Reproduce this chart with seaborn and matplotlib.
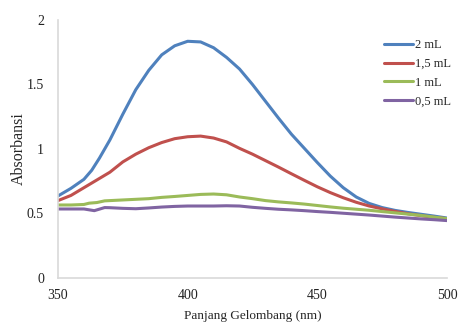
import numpy as np
import pandas as pd
import matplotlib
matplotlib.use("Agg")
import matplotlib.pyplot as plt
import seaborn as sns
from matplotlib.lines import Line2D

# ---- data ----
series_names = ["2 mL", "1,5 mL", "1 mL", "0,5 mL"]

wl_blue = [350, 355, 360, 363, 366, 370, 375, 380, 385, 390, 395, 400, 405, 410,
           415, 420, 425, 430, 435, 440, 445, 450, 455, 460, 465, 470, 475, 480,
           485, 490, 495, 500]
abs_blue = [0.636, 0.695, 0.765, 0.835, 0.93, 1.07, 1.27, 1.46, 1.61, 1.73, 1.80,
            1.835, 1.83, 1.785, 1.71, 1.62, 1.50, 1.37, 1.24, 1.115, 1.005, 0.895,
            0.79, 0.70, 0.628, 0.578, 0.546, 0.524, 0.508, 0.494, 0.48, 0.465]

wl_red = [350, 355, 360, 365, 370, 375, 380, 385, 390, 395, 400, 405, 410, 415,
          420, 425, 430, 435, 440, 445, 450, 455, 460, 465, 470, 475, 480, 485,
          490, 495, 500]
abs_red = [0.60, 0.64, 0.70, 0.76, 0.82, 0.90, 0.96, 1.01, 1.05, 1.08, 1.095,
           1.10, 1.085, 1.055, 1.005, 0.96, 0.91, 0.86, 0.808, 0.757, 0.707, 0.662,
           0.622, 0.587, 0.558, 0.536, 0.516, 0.498, 0.483, 0.471, 0.46]

wl_green = [350, 355, 360, 362, 365, 368, 370, 375, 380, 385, 390, 395, 400, 405,
            410, 415, 420, 425, 430, 435, 440, 445, 450, 455, 460, 465, 470, 475,
            480, 485, 490, 495, 500]
abs_green = [0.566, 0.566, 0.57, 0.58, 0.585, 0.598, 0.60, 0.605, 0.61, 0.615,
             0.625, 0.632, 0.64, 0.648, 0.651, 0.645, 0.628, 0.615, 0.60, 0.59,
             0.582, 0.573, 0.562, 0.551, 0.541, 0.533, 0.525, 0.515, 0.505, 0.495,
             0.485, 0.472, 0.46]

wl_purple = [350, 355, 360, 364, 368, 370, 375, 380, 385, 390, 395, 400, 405, 410,
             415, 420, 425, 430, 435, 440, 445, 450, 455, 460, 465, 470, 475, 480,
             485, 490, 495, 500]
abs_purple = [0.535, 0.535, 0.535, 0.522, 0.546, 0.545, 0.54, 0.537, 0.543, 0.55,
              0.555, 0.558, 0.558, 0.558, 0.56, 0.558, 0.548, 0.54, 0.533, 0.528,
              0.522, 0.515, 0.509, 0.502, 0.495, 0.488, 0.48, 0.472, 0.465, 0.458,
              0.452, 0.445]

x_ticks = [350, 400, 450, 500]
y_ticks = [0, 0.5, 1, 1.5, 2]
y_tick_labels = ["0", "0.5", "1", "1.5", "2"]

colors = ["#4F81BD", "#C0504D", "#9BBB59", "#8064A2"]

# ---- build long-form table ----
frames = []
for name, wl, ab in zip(series_names,
                        [wl_blue, wl_red, wl_green, wl_purple],
                        [abs_blue, abs_red, abs_green, abs_purple]):
    frames.append(pd.DataFrame({"wl": wl, "abs": ab, "series": name}))
df = pd.concat(frames, ignore_index=True)

sns.set_style("white")
plt.rcParams["font.family"] = ["Liberation Serif", "DejaVu Serif"]

fig = plt.figure(figsize=(4.59, 3.29), dpi=100)
ax = fig.add_axes([58 / 459, 1 - 278 / 329, (447 - 58) / 459, (278 - 20) / 329])

sns.lineplot(data=df, x="wl", y="abs", hue="series", hue_order=series_names,
             palette=colors, linewidth=2.2, ax=ax, legend=False, sort=False)

ax.set_xlim(350, 500)
ax.set_ylim(0, 2)
ax.set_xticks(x_ticks)
ax.set_yticks(y_ticks)
ax.set_yticklabels(y_tick_labels)
ax.tick_params(axis="both", length=0, labelsize=10, colors="#222222")
ax.tick_params(axis="x", pad=8)
ax.tick_params(axis="y", pad=10)

for s in ["top", "right"]:
    ax.spines[s].set_visible(False)
for s in ["left", "bottom"]:
    ax.spines[s].set_color("#d9d9d9")
    ax.spines[s].set_linewidth(1.2)

ax.set_xlabel("Panjang Gelombang (nm)", fontsize=9.5, labelpad=6)
ax.set_ylabel("Absorbansi", fontsize=11.5, labelpad=0)

handles = [Line2D([0], [0], color=c, lw=2.2) for c in colors]
leg = ax.legend(handles, series_names, loc="upper left",
                bbox_to_anchor=(384 / 459, 1 - 39 / 329),
                bbox_transform=fig.transFigure, frameon=False,
                fontsize=9, handlelength=2.3, handletextpad=0.15,
                labelspacing=0.55, borderpad=0, borderaxespad=0)

fig.savefig("out.png", dpi=100)
